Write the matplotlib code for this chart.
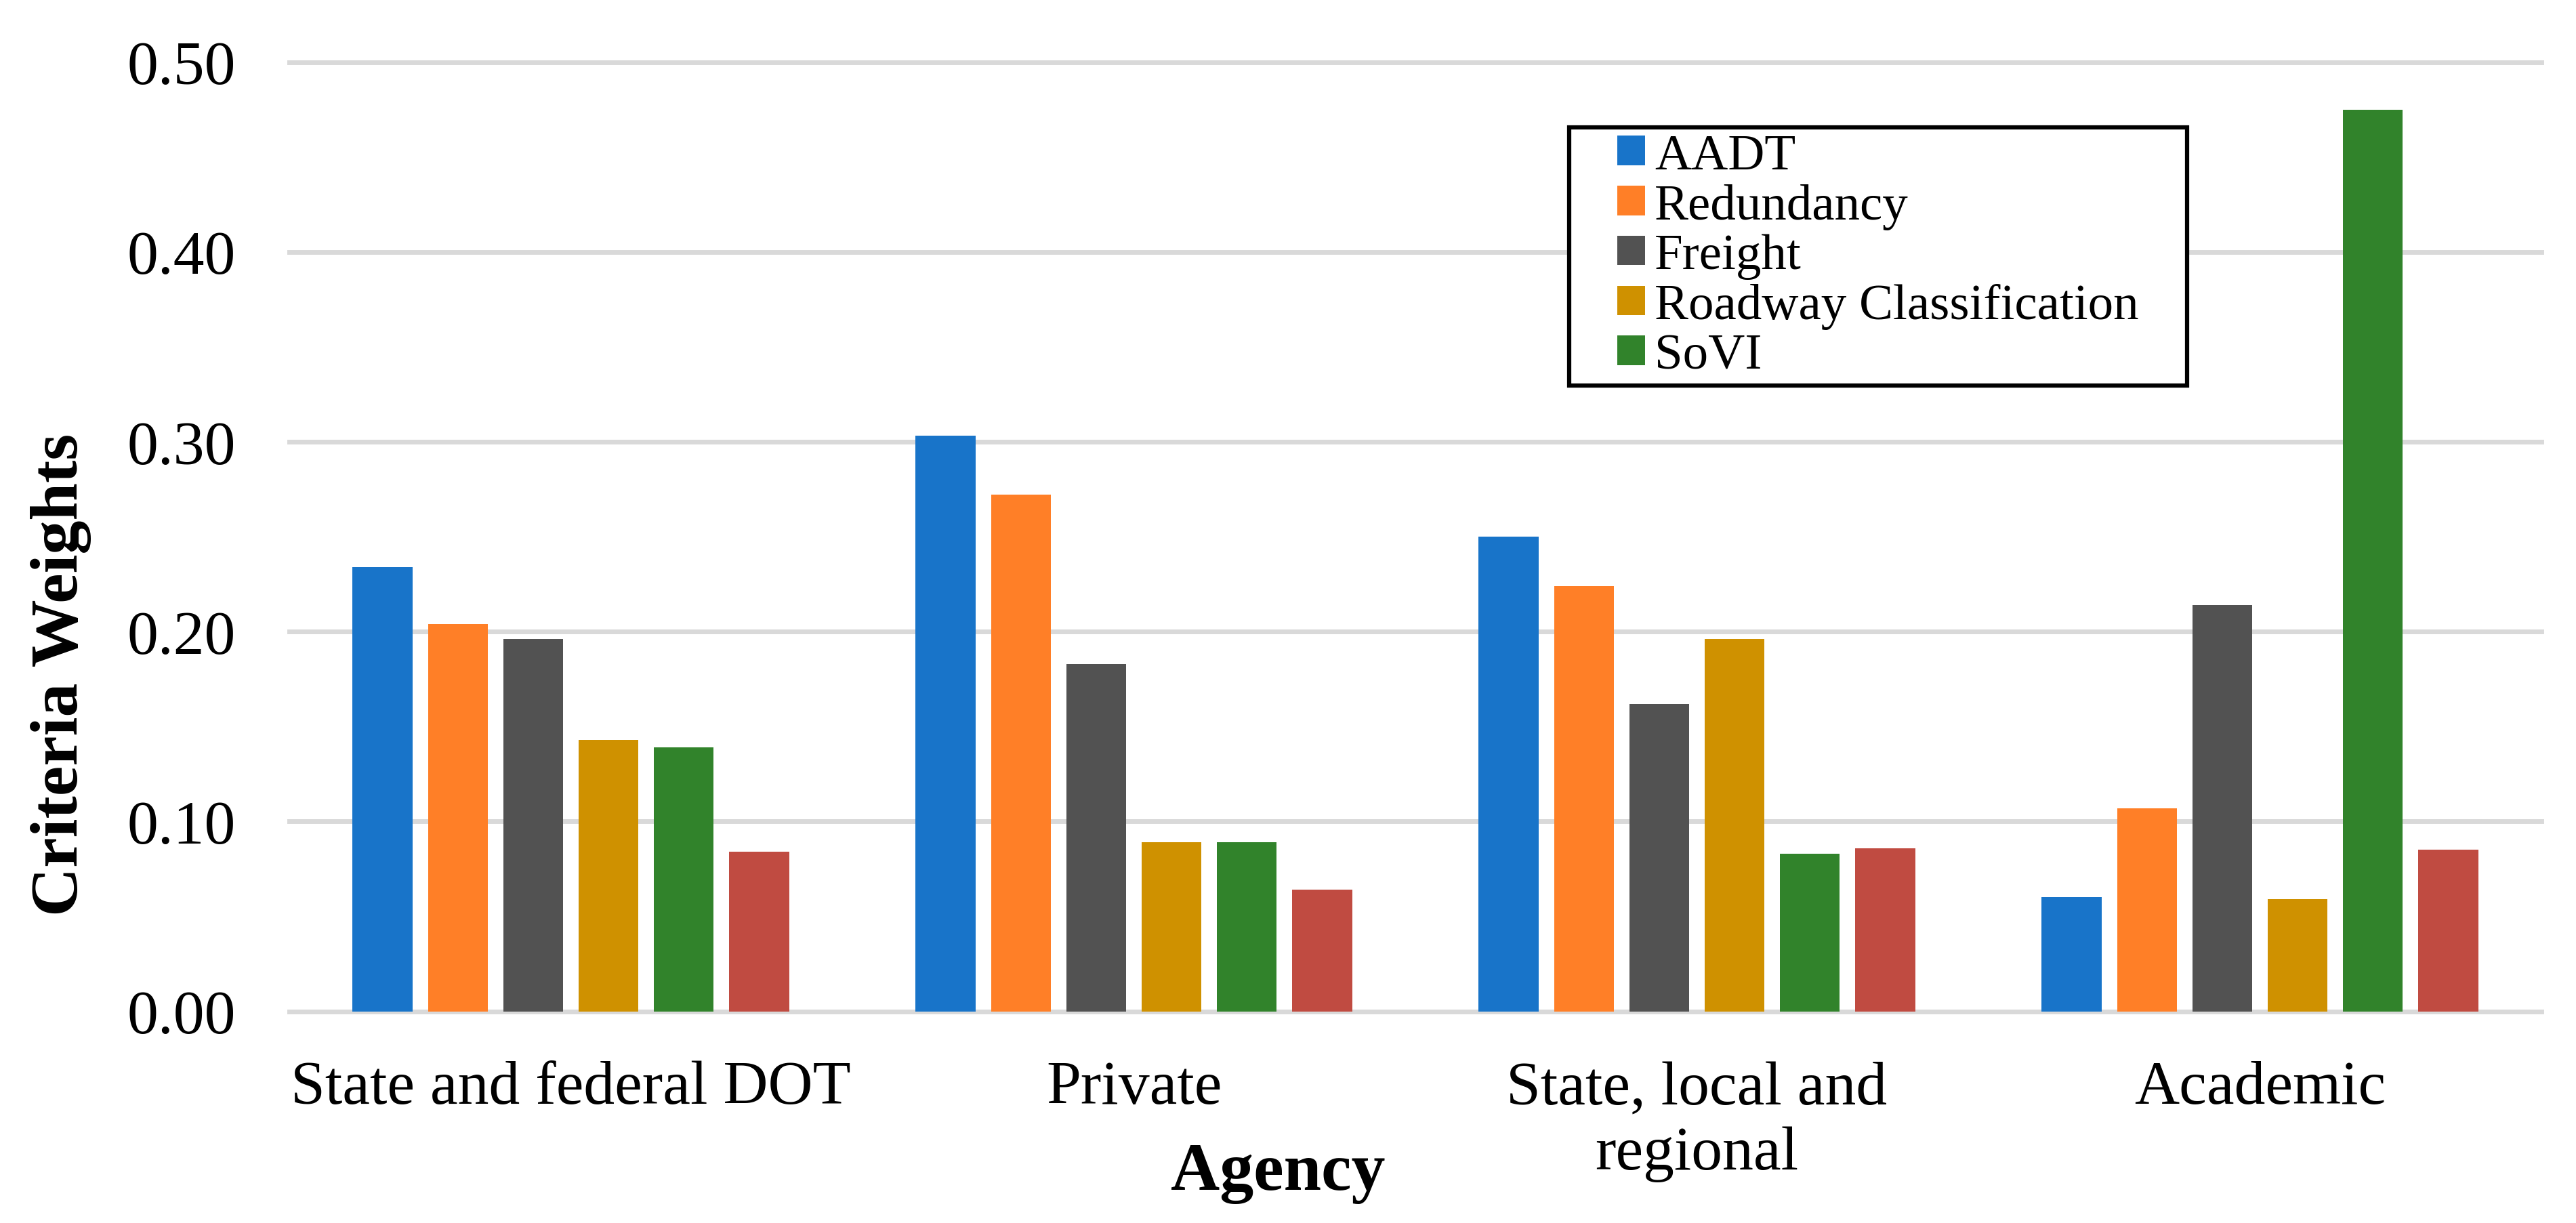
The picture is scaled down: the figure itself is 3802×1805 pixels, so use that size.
import matplotlib.pyplot as plt
import numpy as np
from matplotlib.patches import Patch, Rectangle
from matplotlib.legend_handler import HandlerPatch

# agencies on the x axis
agencies = ['State and federal DOT', 'Private', 'State, local and\nregional', 'Academic']

# criteria weights per agency
aadt = [0.234, 0.303, 0.250, 0.060]
redundancy = [0.204, 0.272, 0.224, 0.107]
freight = [0.196, 0.183, 0.162, 0.214]
roadway_class = [0.143, 0.089, 0.196, 0.059]
sovi = [0.139, 0.089, 0.083, 0.475]
other = [0.084, 0.064, 0.086, 0.085]  # sixth series, not in the legend

series_names = ['AADT', 'Redundancy', 'Freight', 'Roadway Classification', 'SoVI', '_nolegend_']
series_colours = ['#1874C9', '#FF7F27', '#525252', '#CF9100', '#31832B', '#C04B41']
yticks = [0.0, 0.1, 0.2, 0.3, 0.4, 0.5]

plt.rcParams['font.family'] = ['Liberation Serif', 'DejaVu Serif']

W, H = 3802, 1806
fig = plt.figure(figsize=(W / 100, H / 100), dpi=100)
ax = fig.add_axes([427 / W, 1 - 1493.5 / H, (3751 - 427) / W, (1493.5 - 92.5) / H])

x = np.arange(len(agencies))
bar_w = 0.107
step = 0.1336
all_series = [aadt, redundancy, freight, roadway_class, sovi, other]
for i, (vals, name, col) in enumerate(zip(all_series, series_names, series_colours)):
    ax.bar(x + (i - 2.5) * step, vals, width=bar_w, color=col, label=name, zorder=3)

ax.set_xlim(-0.5, len(agencies) - 0.5)
ax.set_ylim(0, 0.5)
for t in yticks:
    ax.axhline(t, color='#D9D9D9', linewidth=5, zorder=1, clip_on=False)

for side in ['top', 'right', 'left', 'bottom']:
    ax.spines[side].set_visible(False)

ax.set_yticks(yticks)
ax.set_yticklabels([f'{t:.2f}' for t in yticks])
ax.set_xticks(x)
ax.set_xticklabels(agencies, linespacing=1.22)
ax.tick_params(axis='y', length=0, pad=57, labelsize=66)
ax.tick_params(axis='x', length=0, pad=52, labelsize=66)

fig.text(90 / W, 1 - 996 / H, 'Criteria Weights', rotation=90, ha='center', va='center',
         fontsize=72, fontweight='bold')
fig.text(1886 / W, 1 - 1756 / H, 'Agency', ha='center', va='baseline',
         fontsize=72, fontweight='bold')


def square_at_right(legend, orig_handle, xdescent, ydescent, width, height, fontsize):
    # small square sitting at the right end of the handle box
    side = 0.54 * fontsize
    return Rectangle((-xdescent + width - side, -ydescent), side, height)


handles = [Patch(facecolor=c) for c in series_colours[:5]]
leg = ax.legend(handles, series_names[:5], loc='upper left',
                bbox_to_anchor=(2316 / W, 1 - 566 / H, (3228 - 2316) / W, (566 - 189) / H),
                bbox_transform=fig.transFigure, mode='expand', borderaxespad=0,
                fontsize=54, fancybox=False, framealpha=1, edgecolor='black',
                handlelength=1.37, handleheight=0.52, handletextpad=0.19,
                labelspacing=0.08, borderpad=0.12,
                handler_map={Patch: HandlerPatch(patch_func=square_at_right)})
leg.get_frame().set_linewidth(4.5)

fig.savefig('out.png', dpi=100, facecolor='white')
